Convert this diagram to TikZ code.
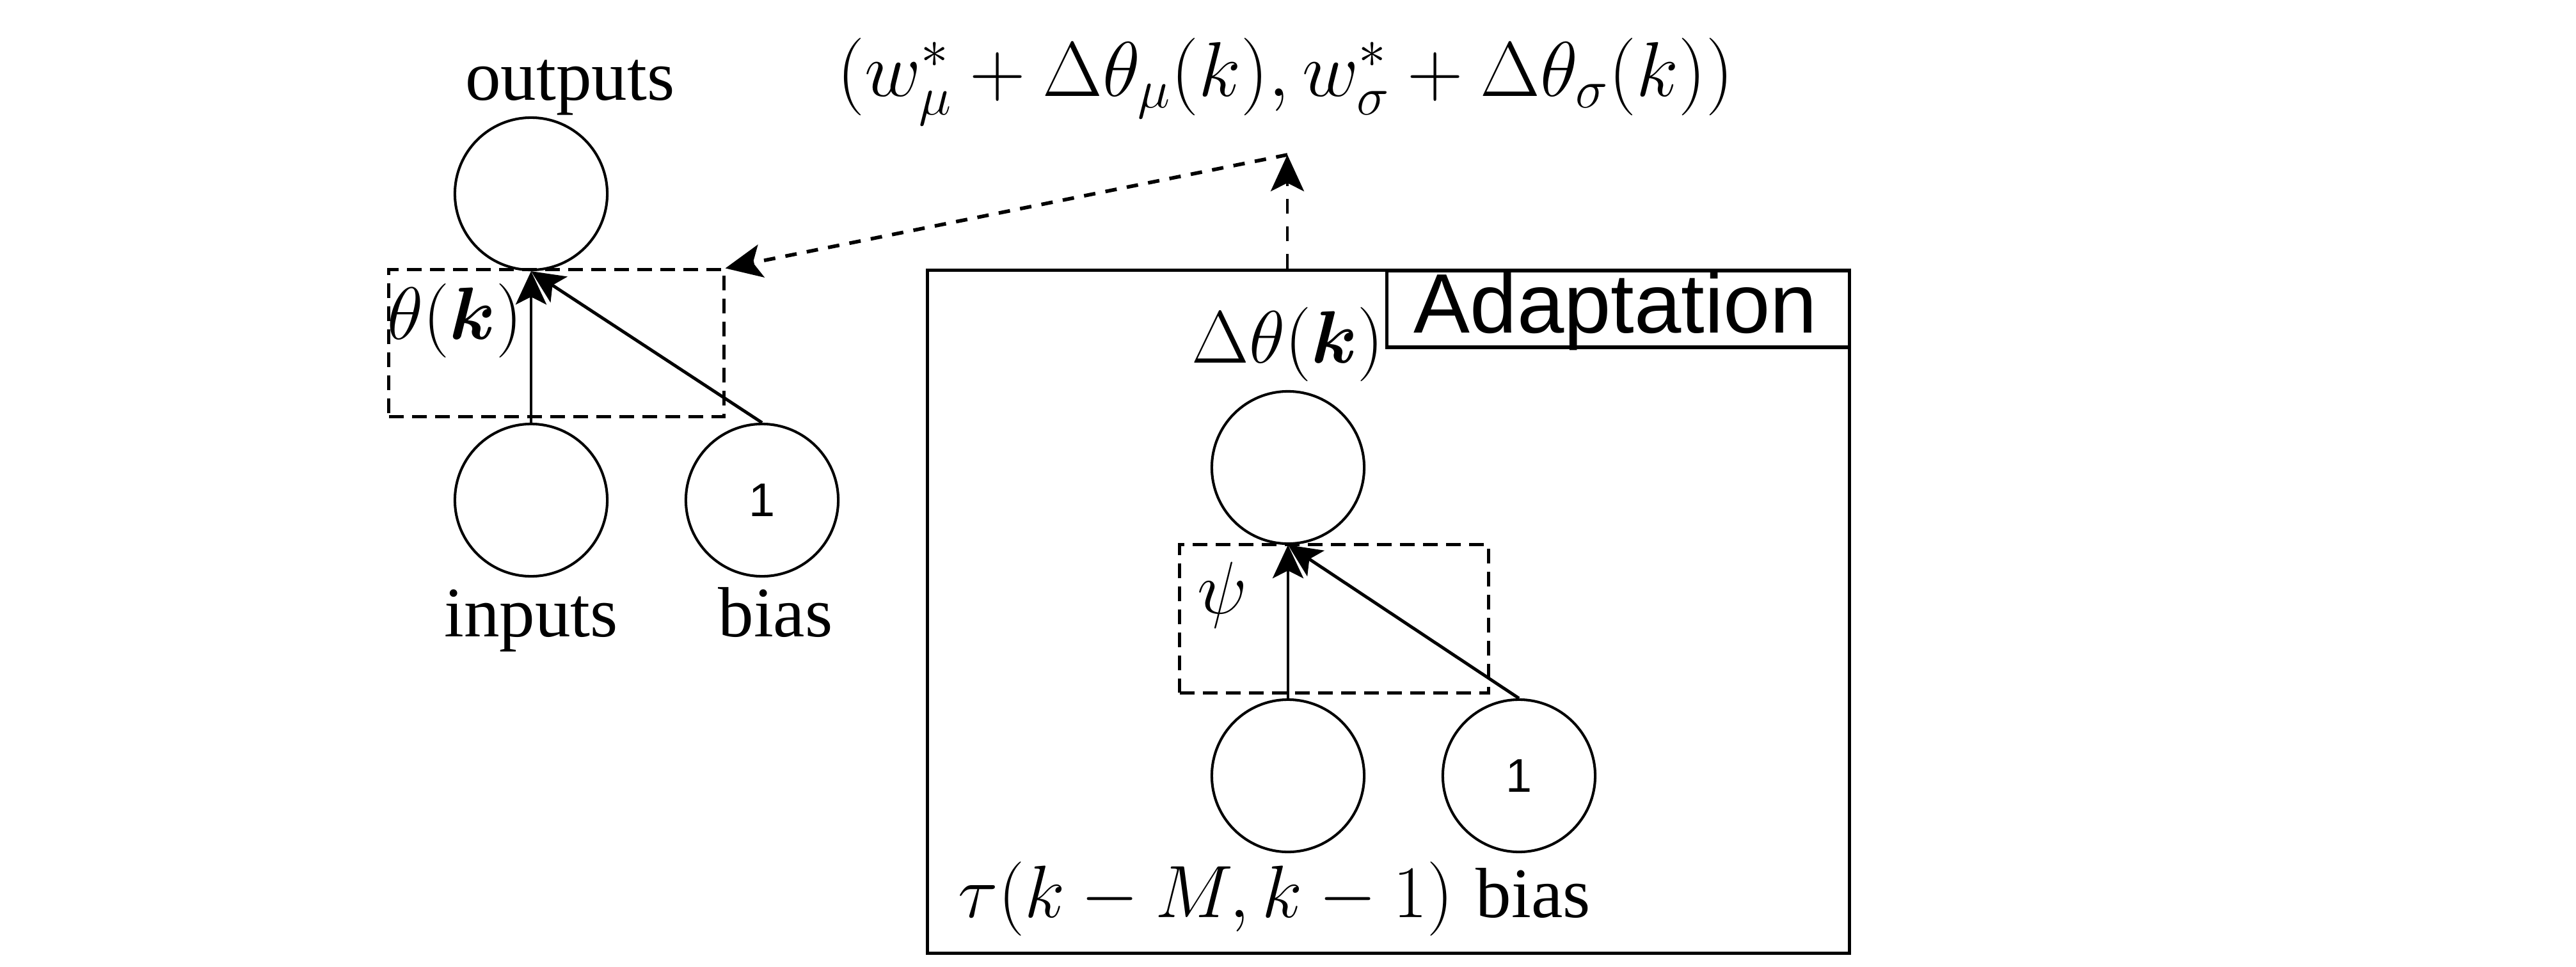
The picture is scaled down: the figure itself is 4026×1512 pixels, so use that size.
\RequirePackage{fix-cm}
\documentclass[tikz,border=0pt]{standalone}
\usepackage{amsmath}
\usepackage[no-math]{fontspec}
\newfontfamily\tnr{Liberation Serif}
\newfontfamily\arl{Liberation Sans}
\usetikzlibrary{arrows.meta}
\newcommand{\mathsz}{\fontsize{33}{40}\selectfont}
\newcommand{\txtsz}{\tnr\fontsize{31.6}{38}\selectfont}
\begin{document}
\begin{tikzpicture}[x=0.01cm, y=-0.01cm,
  neuron/.style={circle, draw, line width=1.15pt, minimum size=2.38cm, inner sep=0pt, font=\arl\fontsize{21}{25}\selectfont},
  conn/.style={line width=1.4pt, -{Stealth[length=0.52cm, width=0.48cm, inset=0.12cm]}},
  dbox/.style={draw, line width=1.4pt, dash pattern=on 0.23cm off 0.13cm, inner sep=0pt},
  dvert/.style={line width=1.3pt, dash pattern=on 0.23cm off 0.2cm, -{Stealth[length=0.57cm, width=0.52cm, inset=0.13cm]}},
  dslant/.style={line width=1.6pt, dash pattern=on 0.18cm off 0.16cm, -{Stealth[length=0.57cm, width=0.52cm, inset=0.13cm]}},
  mlabel/.style={font=\mathsz, inner sep=0pt},
  tlabel/.style={font=\txtsz, inner sep=0pt},
  solidbox/.style={draw, line width=1.5pt, inner sep=0pt}]
\useasboundingbox (0,0) rectangle (4026,1512);

% left network
\node[neuron] (out) at (830,303) {};
\node[neuron] (in) at (830,782) {};
\node[neuron] (b1) at (1191,782) {1};
\node[dbox, minimum width=5.23cm, minimum height=2.29cm] (thbox) at (869.5,536.5) {};
\node[mlabel, anchor=base] (thlab) at (711,530) {$\theta(\boldsymbol{k})$};
\node[tlabel, anchor=base] (outlab) at (891,156) {outputs};
\node[tlabel, anchor=base] (inlab) at (830,995) {inputs};
\node[tlabel, anchor=base] (b1lab) at (1212,995) {bias};
\draw[conn] (in) -- (out);
\draw[conn] (b1.north) -- (out.south);

% formula
\node[inner sep=0pt, anchor=base, font=\fontsize{34.5}{42}\selectfont] (formula) at (2009,150)
  {$(w_\mu^* + \Delta\theta_\mu(k), w_\sigma^* + \Delta\theta_\sigma(k))$};
\coordinate (meet) at (2012,242);

% adaptation block
\node[solidbox, minimum width=14.4cm, minimum height=10.67cm] (adapt) at (2170,956.5) {};
\node[solidbox, minimum width=7.22cm, minimum height=1.2cm] (adlab) at (2529,483) {};
\node[anchor=base, inner sep=0pt, font=\arl\fontsize{37.5}{44}\selectfont] (adtext) at (2525,520) {Adaptation};

\node[neuron] (dth) at (2013,731) {};
\node[neuron] (tau) at (2013,1213) {};
\node[neuron] (b2) at (2374,1213) {1};
\node[dbox, minimum width=4.82cm, minimum height=2.31cm] (psibox) at (2085,967.5) {};
\node[mlabel] (psilab) at (1910,930) {$\psi$};
\node[mlabel, anchor=base] (dthlab) at (2013,567) {$\Delta\theta(\boldsymbol{k})$};
\node[mlabel, anchor=base west] (taulab) at (1497,1434) {$\tau(k-M,k-1)$};
\node[tlabel, anchor=base west] (b2lab) at (2306,1434) {bias};
\draw[conn] (tau) -- (dth);
\draw[conn] (b2.north) -- (dth.south);

% dashed connectors
\draw[dvert] (adapt.north -| meet) -- (meet);
\draw[dslant] (meet) -- (thbox.north east);
\end{tikzpicture}
\end{document}
